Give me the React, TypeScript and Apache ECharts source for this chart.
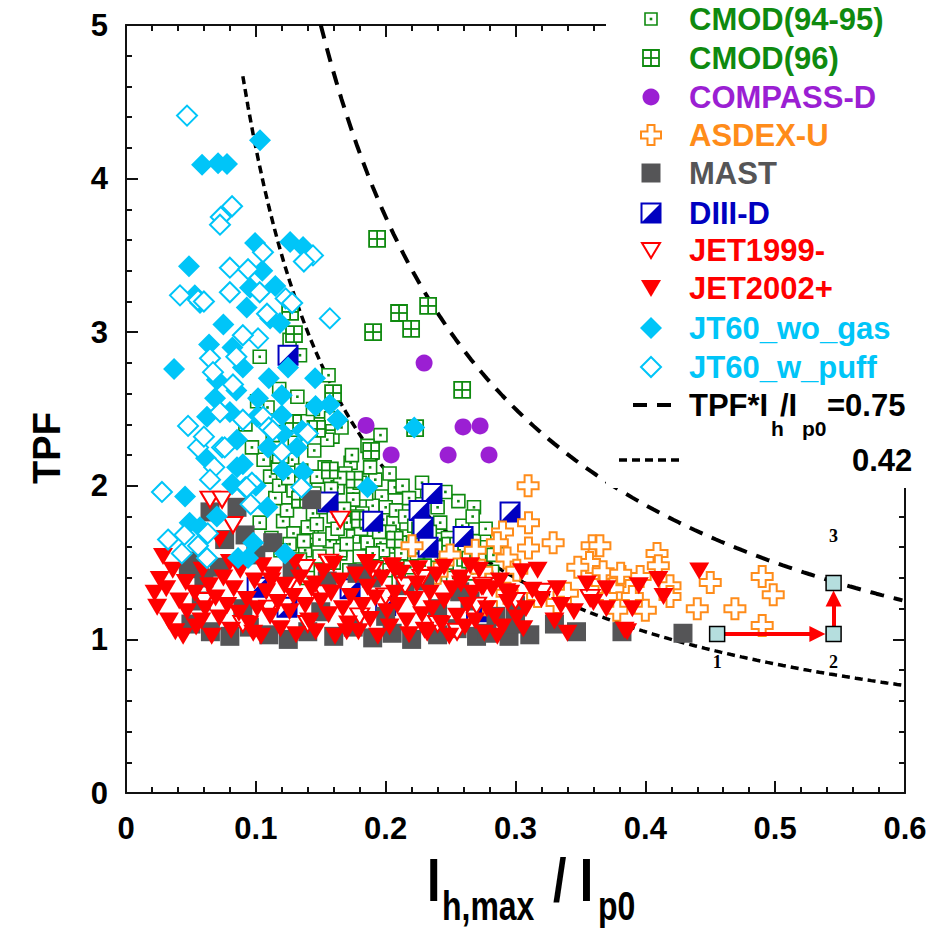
import React, { useEffect, useRef } from "react";
import * as echarts from "echarts";

// ---------------- data ----------------
const SERIES_NAMES = [
  "CMOD(94-95)", "CMOD(96)", "COMPASS-D", "ASDEX-U", "MAST",
  "DIII-D", "JET1999-", "JET2002+", "JT60_wo_gas", "JT60_w_puff",
];

const cmod9495: number[][] = [
  [0.103,2.84],[0.156,2.72],[0.109,2.51],[0.101,2.55],[0.149,2.40],[0.159,2.32],[0.173,2.15],[0.153,2.12],[0.145,2.23],[0.106,2.17],
  [0.111,2.06],[0.128,2.17],[0.138,2.02],[0.169,2.08],[0.175,1.95],[0.196,2.33],[0.174,2.20],[0.155,2.30],[0.120,2.35],[0.130,2.28],
  [0.197,1.93],[0.207,1.99],[0.213,2.00],[0.198,1.78],[0.206,1.76],[0.216,1.67],[0.211,1.63],[0.196,1.63],[0.186,1.67],[0.175,1.73],
  [0.144,1.82],[0.143,1.70],[0.138,1.58],[0.157,1.64],[0.165,1.56],[0.196,1.53],[0.206,1.52],[0.219,1.47],[0.242,1.76],[0.242,1.65],
  [0.248,1.66],[0.259,1.74],[0.257,1.58],[0.247,1.50],[0.267,1.43],[0.282,1.44],[0.260,1.52],[0.201,1.45],
  [0.103,1.76],[0.121,1.77],[0.129,1.69],[0.140,1.73],[0.149,1.65],[0.159,1.69],[0.170,1.76],[0.175,1.67],[0.180,1.54],[0.165,1.58],
  [0.149,1.54],[0.134,1.52],[0.155,1.91],[0.175,1.91],[0.163,1.99],[0.129,1.97],[0.124,1.84],[0.190,1.87],[0.190,1.76],[0.186,1.63],[0.193,1.47],
  [0.115,1.92],[0.118,2.00],[0.133,1.90],[0.145,1.95],[0.152,1.86],[0.160,1.80],[0.168,1.85],[0.182,1.82],[0.185,1.95],[0.192,2.04],
  [0.200,1.86],[0.208,1.84],[0.215,1.80],[0.222,1.74],[0.228,1.62],[0.235,1.55],[0.224,1.56],[0.230,1.48],[0.212,1.56],[0.203,1.70],
  [0.181,1.72],[0.170,1.62],[0.160,1.50],[0.150,1.45],[0.140,1.40],[0.172,1.45],[0.186,1.40],[0.210,1.38],[0.238,1.42],[0.252,1.40],
  [0.272,1.52],[0.276,1.60],[0.268,1.64],[0.250,1.58],[0.240,1.86],[0.232,1.95],[0.225,1.88],[0.218,1.92],[0.203,2.08],[0.188,2.12],
  [0.180,2.02],[0.165,2.05],[0.158,1.98],[0.147,2.06],[0.135,2.10],[0.125,2.05],[0.117,2.12],[0.126,1.62],[0.119,1.58],[0.112,1.66],
  [0.137,1.64],[0.147,1.75],[0.163,1.72],[0.178,1.80],[0.195,1.70],[0.198,1.58],[0.190,1.56],[0.228,1.80],[0.234,1.70],[0.244,1.60],
  [0.262,1.66],[0.283,1.55],[0.286,1.64],[0.277,1.72],[0.268,1.86],[0.267,1.80],[0.256,1.90],[0.246,1.96],[0.228,2.02],[0.158,2.44],
  [0.166,2.38],[0.186,2.26],[0.140,2.42],[0.113,2.33],[0.132,2.58],[0.144,2.50],[0.118,2.63],[0.092,2.40],[0.097,2.25],[0.134,2.85],[0.126,2.95],
];

const cmod96: number[][] = [
  [0.1934,3.607],[0.2103,3.125],[0.2327,3.171],[0.2196,3.021],[0.1903,3.001],[0.2589,2.624],[0.1888,2.227],[0.1264,3.132],
  [0.1294,2.988],[0.1595,2.604],[0.2227,2.376],[0.1472,2.370],[0.1287,2.409],[0.157,2.10],[0.176,2.04],[0.134,1.91],
  [0.119,2.20],[0.180,1.78],[0.207,1.65],[0.2265,1.71],[0.2496,1.61],[0.265,1.52],
];

const compassD: number[][] = [
  [0.2296,2.799],[0.1849,2.393],[0.2042,2.201],[0.2481,2.201],[0.2596,2.383],[0.2727,2.39],[0.2796,2.201],
];

const asdexU: number[][] = [
  [0.3097,2.00],[0.310,1.76],[0.310,1.595],[0.329,1.63],[0.359,1.61],[0.357,1.50],[0.348,1.47],[0.290,1.70],[0.286,1.63],[0.2935,1.53],
  [0.269,1.58],[0.2496,1.55],[0.2203,1.61],[0.2396,1.43],[0.274,1.45],[0.301,1.45],[0.317,1.28],[0.332,1.24],[0.2935,1.30],[0.340,1.30],
  [0.3667,1.37],[0.382,1.41],[0.375,1.33],[0.283,1.18],[0.378,1.19],[0.365,1.61],[0.409,1.56],[0.410,1.48],[0.396,1.41],[0.419,1.35],
  [0.419,1.28],[0.400,1.19],[0.390,1.28],[0.450,1.37],[0.440,1.20],[0.469,1.20],[0.490,1.41],[0.4985,1.29],[0.490,1.09],[0.370,1.28],
  [0.3675,1.44],[0.381,1.43],
];

const mast: number[][] = [
  [0.0647,1.83],[0.0855,1.86],[0.0917,1.68],[0.076,1.65],[0.113,1.63],[0.048,1.46],[0.050,1.51],[0.072,1.47],[0.143,1.91],[0.178,1.43],
  [0.189,1.40],[0.100,1.55],[0.060,1.40],[0.128,1.45],[0.215,1.35],[0.155,1.38],
  [0.050,1.10],[0.065,1.05],[0.080,1.02],[0.095,1.08],[0.110,1.03],[0.125,1.00],[0.140,1.05],[0.160,1.02],[0.175,1.08],[0.190,1.01],
  [0.205,1.04],[0.220,1.00],[0.240,1.03],[0.255,1.07],[0.270,1.02],[0.278,1.04],[0.295,1.02],[0.311,1.03],[0.347,1.05],[0.382,1.05],
  [0.429,1.04],[0.058,1.25],[0.090,1.20],[0.150,1.18],[0.200,1.15],[0.240,1.20],[0.265,1.25],[0.285,1.15],[0.300,1.10],[0.330,1.10],
  [0.257,1.31],[0.230,1.38],[0.300,1.22],
];

const diiiD: number[][] = [
  [0.1248,2.85],[0.1556,1.895],[0.190,1.77],[0.2357,1.95],[0.2257,1.84],[0.2288,1.73],[0.2327,1.60],[0.2596,1.67],[0.2958,1.83],
  [0.101,1.34],[0.124,1.21],[0.1726,1.33],[0.200,1.22],[0.270,1.18],
];

const jet1999: number[][] = [
  [0.0647,1.91],[0.074,1.91],[0.0824,1.745],[0.165,1.78],[0.138,1.465],[0.156,1.50],[0.152,1.30],[0.228,1.40],[0.275,1.35],[0.321,1.31],
  [0.3575,1.27],[0.215,1.35],[0.110,1.20],[0.180,1.15],[0.240,1.10],[0.270,1.22],[0.300,1.25],[0.090,1.10],[0.200,1.28],[0.060,1.25],
  [0.125,1.35],[0.255,1.05],[0.190,1.45],[0.140,1.10],
];

const jet2002: number[][] = [
  [0.0285,1.54],[0.026,1.39],[0.022,1.30],[0.024,1.21],[0.072,1.65],[0.031,1.33],[0.036,1.45],[0.033,1.12],[0.041,1.25],[0.038,1.05],
  [0.046,1.37],[0.047,1.18],[0.053,1.30],[0.054,1.08],[0.059,1.45],[0.061,1.20],[0.064,1.35],[0.066,1.02],[0.069,1.27],[0.072,1.14],
  [0.075,1.40],[0.078,1.22],[0.081,1.06],[0.083,1.33],[0.087,1.17],[0.088,1.45],[0.093,1.26],[0.095,1.10],[0.099,1.38],[0.101,1.20],
  [0.104,1.02],[0.108,1.31],[0.111,1.15],[0.113,1.42],[0.117,1.24],[0.119,1.07],[0.122,1.35],[0.126,1.18],[0.129,1.28],[0.131,1.03],
  [0.134,1.40],[0.138,1.22],[0.141,1.12],[0.143,1.33],[0.146,1.05],[0.150,1.25],[0.152,1.44],[0.156,1.16],[0.158,1.30],[0.161,1.02],
  [0.165,1.38],[0.167,1.20],[0.171,1.10],[0.173,1.28],[0.177,1.42],[0.179,1.05],[0.182,1.22],[0.186,1.34],[0.188,1.13],[0.192,1.27],
  [0.194,1.02],[0.197,1.40],[0.201,1.18],[0.203,1.08],[0.207,1.30],[0.209,1.22],[0.212,1.43],[0.216,1.12],[0.218,1.03],[0.222,1.26],
  [0.224,1.36],[0.228,1.16],[0.230,1.06],[0.234,1.30],[0.236,1.20],[0.239,1.42],[0.243,1.10],[0.245,1.25],[0.249,1.02],[0.251,1.33],
  [0.255,1.15],[0.257,1.40],[0.261,1.08],[0.263,1.22],[0.267,1.30],[0.269,1.12],[0.272,1.45],[0.276,1.04],[0.278,1.20],[0.282,1.33],
  [0.284,1.15],[0.288,1.38],[0.290,1.08],[0.294,1.24],[0.296,1.30],[0.301,1.14],[0.305,1.44],[0.308,1.20],[0.313,1.32],[0.306,1.07],
  [0.320,1.26],[0.317,1.45],[0.330,1.12],[0.335,1.22],[0.332,1.33],[0.345,1.18],[0.340,1.04],[0.355,1.36],[0.360,1.24],[0.370,1.20],
  [0.384,1.06],[0.386,1.05],[0.390,1.20],[0.395,1.35],[0.410,1.39],[0.414,1.28],[0.4415,1.445],[0.245,1.47],[0.265,1.48],[0.225,1.46],
  [0.205,1.48],[0.185,1.50],[0.160,1.49],[0.130,1.50],[0.105,1.48],[0.080,1.50],[0.207,1.45],[0.274,1.34],[0.293,1.31],[0.370,1.33],
  [0.058,1.12],[0.098,1.04],[0.146,1.36],[0.188,1.46],[0.232,1.04],[0.258,1.36],[0.112,1.38],[0.170,1.05],[0.286,1.02],[0.044,1.02],
];

const jt60WoGas: number[][] = [
  [0.0586,4.09],[0.0709,4.10],[0.0778,4.095],[0.1032,4.25],[0.0994,3.58],[0.1264,3.587],[0.1364,3.555],[0.0485,3.43],[0.053,3.24],[0.057,3.19],
  [0.037,2.76],[0.082,2.90],[0.090,2.77],[0.0955,3.29],[0.093,3.16],[0.111,3.09],[0.1186,3.06],[0.070,2.69],[0.0686,2.57],[0.0624,2.45],
  [0.080,2.48],[0.1017,2.57],[0.120,2.59],[0.120,2.46],[0.101,2.45],[0.0855,2.30],[0.121,2.34],[0.1356,2.36],[0.1317,2.25],[0.1094,2.25],
  [0.090,2.14],[0.121,2.10],[0.1364,2.09],[0.1248,2.77],[0.1456,2.70],[0.157,2.53],[0.163,2.43],[0.0817,2.01],[0.0455,1.93],[0.186,1.99],
  [0.049,1.76],[0.057,1.73],[0.098,1.63],[0.0863,1.53],[0.094,1.53],[0.1225,1.56],[0.109,1.86],[0.1356,1.99],[0.0855,2.12],[0.0616,2.18],
  [0.222,2.38],[0.146,2.52],[0.075,3.05],[0.105,3.40],[0.115,3.30],[0.085,2.62],[0.064,2.92],[0.110,2.70],[0.100,2.00],[0.070,1.80],
];

const jt60WPuff: number[][] = [
  [0.047,4.41],[0.0817,3.82],[0.073,3.75],[0.0724,3.70],[0.1055,3.52],[0.144,3.50],[0.137,3.46],[0.080,3.42],[0.094,3.41],[0.123,3.22],
  [0.157,3.09],[0.103,3.26],[0.080,3.26],[0.0555,3.21],[0.1086,3.12],[0.1017,2.96],[0.0647,2.83],[0.067,2.74],[0.0824,2.66],[0.0724,2.48],
  [0.0478,2.39],[0.090,2.43],[0.0555,2.25],[0.074,2.25],[0.1055,2.45],[0.068,2.12],[0.0416,3.24],[0.060,3.20],[0.128,3.19],[0.090,2.98],
  [0.120,2.22],[0.140,2.34],[0.0647,2.04],[0.0277,1.96],[0.097,2.02],[0.135,1.99],[0.092,1.99],[0.0324,1.65],[0.045,1.68],[0.043,1.56],
  [0.0555,1.61],[0.063,1.69],[0.0624,1.53],[0.096,1.88],[0.093,1.99],[0.076,2.25],[0.060,2.32],[0.110,2.38],[0.085,2.84],[0.113,2.36],
];

// limit curves TPF * Ih/Ip0 = const
const LIMIT_CONSTANTS = [0.75, 0.42];
const LIMIT_X_START = [0.15, 0.09];
const X_MAX = 0.6;

// scenario steps 1 -> 2 -> 3
const stepPoints: number[][] = [[0.4553, 1.035], [0.545, 1.035], [0.545, 1.367]];
const stepLabels = ["1", "2", "3"];
const stepArrows: number[][][] = [
  [[0.4611, 1.035], [0.5325, 1.035]],
  [[0.545, 1.084], [0.545, 1.266]],
];

// ---------------- styles ----------------
const GREEN = "#0f8a0f";
const PURPLE = "#9b1fd3";
const ORANGE = "#ff8c1a";
const GREY = "#555557";
const BLUE = "#0000c0";
const RED = "#ff0000";
const CYAN = "#00c5f8";
const TEXT_COLORS = [GREEN, GREEN, PURPLE, ORANGE, GREY, BLUE, RED, RED, CYAN, CYAN];

const PLUS_PATH = "path://M7,0H14V7H21V14H14V21H7V14H0V7H7Z";
const SANS = '"Liberation Sans", Arial, sans-serif';

function curveData(k: number, x0: number): number[][] {
  const pts: number[][] = [];
  for (let x = x0; x <= X_MAX + 1e-9; x += 0.004) pts.push([x, k / x]);
  return pts;
}

function renderCmodDot(_p: any, api: any) {
  const c = api.coord([api.value(0), api.value(1)]);
  const s = 13;
  return {
    type: "group",
    children: [
      { type: "rect", shape: { x: c[0] - s / 2, y: c[1] - s / 2, width: s, height: s }, style: { fill: "#fff", stroke: GREEN, lineWidth: 1.6 } },
      { type: "rect", shape: { x: c[0] - 1.3, y: c[1] - 1.3, width: 2.6, height: 2.6 }, style: { fill: GREEN } },
    ],
  };
}
function renderCmodGrid(_p: any, api: any) {
  const c = api.coord([api.value(0), api.value(1)]);
  const s = 16;
  return {
    type: "group",
    children: [
      { type: "rect", shape: { x: c[0] - s / 2, y: c[1] - s / 2, width: s, height: s }, style: { fill: "#fff", stroke: GREEN, lineWidth: 1.8 } },
      { type: "line", shape: { x1: c[0], y1: c[1] - s / 2, x2: c[0], y2: c[1] + s / 2 }, style: { stroke: GREEN, lineWidth: 1.8 } },
      { type: "line", shape: { x1: c[0] - s / 2, y1: c[1], x2: c[0] + s / 2, y2: c[1] }, style: { stroke: GREEN, lineWidth: 1.8 } },
    ],
  };
}
function renderDiiiD(_p: any, api: any) {
  const c = api.coord([api.value(0), api.value(1)]);
  const s = 19;
  const h = s / 2;
  return {
    type: "group",
    children: [
      { type: "rect", shape: { x: c[0] - h, y: c[1] - h, width: s, height: s }, style: { fill: "#fff", stroke: BLUE, lineWidth: 2 } },
      { type: "polygon", shape: { points: [[c[0] + h, c[1] - h], [c[0] + h, c[1] + h], [c[0] - h, c[1] + h]] }, style: { fill: BLUE } },
    ],
  };
}

function legendIcon(i: number, x: number, y: number): any[] {
  switch (i) {
    case 0:
      return [
        { type: "rect", shape: { x: x - 6, y: y - 6, width: 12, height: 12 }, style: { fill: "#fff", stroke: GREEN, lineWidth: 1.6 } },
        { type: "rect", shape: { x: x - 1.3, y: y - 1.3, width: 2.6, height: 2.6 }, style: { fill: GREEN } },
      ];
    case 1:
      return [
        { type: "rect", shape: { x: x - 8, y: y - 8, width: 16, height: 16 }, style: { fill: "#fff", stroke: GREEN, lineWidth: 1.8 } },
        { type: "line", shape: { x1: x, y1: y - 8, x2: x, y2: y + 8 }, style: { stroke: GREEN, lineWidth: 1.8 } },
        { type: "line", shape: { x1: x - 8, y1: y, x2: x + 8, y2: y }, style: { stroke: GREEN, lineWidth: 1.8 } },
      ];
    case 2:
      return [{ type: "circle", shape: { cx: x, cy: y, r: 8.5 }, style: { fill: PURPLE } }];
    case 3: {
      const a = 3.5, b = 10;
      return [{
        type: "polygon",
        shape: { points: [[x - a, y - b], [x + a, y - b], [x + a, y - a], [x + b, y - a], [x + b, y + a], [x + a, y + a], [x + a, y + b], [x - a, y + b], [x - a, y + a], [x - b, y + a], [x - b, y - a], [x - a, y - a]] },
        style: { fill: "#fff", stroke: ORANGE, lineWidth: 2 },
      }];
    }
    case 4:
      return [{ type: "rect", shape: { x: x - 9.5, y: y - 9.5, width: 19, height: 19 }, style: { fill: GREY } }];
    case 5:
      return [
        { type: "rect", shape: { x: x - 9.5, y: y - 9.5, width: 19, height: 19 }, style: { fill: "#fff", stroke: BLUE, lineWidth: 2 } },
        { type: "polygon", shape: { points: [[x + 9.5, y - 9.5], [x + 9.5, y + 9.5], [x - 9.5, y + 9.5]] }, style: { fill: BLUE } },
      ];
    case 6:
      return [{ type: "polygon", shape: { points: [[x - 9, y - 7], [x + 9, y - 7], [x, y + 8]] }, style: { fill: "#fff", stroke: RED, lineWidth: 2 } }];
    case 7:
      return [{ type: "polygon", shape: { points: [[x - 10, y - 8], [x + 10, y - 8], [x, y + 9]] }, style: { fill: RED } }];
    case 8:
      return [{ type: "polygon", shape: { points: [[x, y - 11], [x + 11, y], [x, y + 11], [x - 11, y]] }, style: { fill: CYAN } }];
    default:
      return [{ type: "polygon", shape: { points: [[x, y - 10], [x + 10, y], [x, y + 10], [x - 10, y]] }, style: { fill: "#fff", stroke: CYAN, lineWidth: 2 } }];
  }
}

function txt(text: string, x: number, y: number, font: string, fill = "#000", align = "left", extra: any = {}) {
  return {
    type: "text",
    x,
    y,
    z: 101,
    ...extra,
    style: { text, font, fill, textAlign: align, align, textVerticalAlign: "middle", verticalAlign: "middle" },
  };
}

export default function App() {
  const ref = useRef<HTMLDivElement>(null);

  useEffect(() => {
    if (!ref.current) return;
    const chart = echarts.init(ref.current, null, { renderer: "svg" });

    const LEG_ICON_X = 651;
    const LEG_TEXT_X = 689;
    const LEG_Y = [19, 58, 97, 135, 173, 213, 250, 288, 328, 367];

    const legendEls: any[] = [
      { type: "rect", z: 100, shape: { x: 606, y: 0, width: 330, height: 488 }, style: { fill: "#fff" } },
    ];
    SERIES_NAMES.forEach((name, i) => {
      legendIcon(i, LEG_ICON_X, LEG_Y[i]).forEach((el) => legendEls.push({ ...el, z: 101 }));
      legendEls.push(txt(name, LEG_TEXT_X, LEG_Y[i], `bold 31px ${SANS}`, TEXT_COLORS[i]));
    });
    legendEls.push({ type: "line", z: 101, shape: { x1: 633, y1: 405, x2: 681, y2: 405 }, style: { stroke: "#000", lineWidth: 4, lineDash: [14, 10] } });
    legendEls.push(txt("TPF*I", LEG_TEXT_X, 405, `bold 31px ${SANS}`));
    legendEls.push(txt("h", 771, 428, `bold 21px ${SANS}`));
    legendEls.push(txt("/I", 780, 405, `bold 31px ${SANS}`));
    legendEls.push(txt("p0", 802, 428, `bold 21px ${SANS}`));
    legendEls.push(txt("=0.75", 827, 405, `bold 31px ${SANS}`));
    legendEls.push({ type: "line", z: 101, shape: { x1: 619, y1: 460, x2: 684, y2: 460 }, style: { stroke: "#000", lineWidth: 3.5, lineDash: [8, 5] } });
    legendEls.push(txt("0.42", 852, 460, `bold 31px ${SANS}`));

    // axis titles (condensed by horizontal scaling)
    const squeeze = { scaleX: 0.78 };
    legendEls.push(txt("TPF", 47, 448, `bold 38px ${SANS}`, "#000", "center", { rotation: Math.PI / 2 }));
    legendEls.push(txt("I", 427, 880, `bold 62px ${SANS}`, "#000", "left", squeeze));
    legendEls.push(txt("h,max", 442, 906, `bold 41px ${SANS}`, "#000", "left", squeeze));
    legendEls.push(txt("/ I", 553, 880, `bold 62px ${SANS}`, "#000", "left", squeeze));
    legendEls.push(txt("p0", 598, 906, `bold 41px ${SANS}`, "#000", "left", squeeze));

    const axisLineStyle = { color: "#111", width: 2 };
    const xBase = {
      type: "value" as const,
      min: 0,
      max: X_MAX,
      interval: 0.1,
      splitLine: { show: false },
      axisLine: { show: true, onZero: false, lineStyle: axisLineStyle },
      axisTick: { show: true, inside: true, length: 12, lineStyle: axisLineStyle },
      minorTick: { show: true, splitNumber: 5, length: 6, lineStyle: axisLineStyle },
    };
    const yBase = {
      type: "value" as const,
      min: 0,
      max: 5,
      interval: 1,
      splitLine: { show: false },
      axisLine: { show: true, onZero: false, lineStyle: axisLineStyle },
      axisTick: { show: true, inside: true, length: 12, lineStyle: axisLineStyle },
      minorTick: { show: true, splitNumber: 5, length: 6, lineStyle: axisLineStyle },
    };

    const scatterBase = { type: "scatter" as const, silent: true, emphasis: { disabled: true } };

    const option: any = {
      animation: false,
      backgroundColor: "#fff",
      grid: { left: 126, right: 27, top: 25, bottom: 138, containLabel: false },
      xAxis: [
        {
          ...xBase,
          position: "bottom",
          axisLabel: {
            show: true,
            margin: 20,
            fontSize: 31,
            fontWeight: "bold",
            fontFamily: SANS,
            color: "#000",
            formatter: (v: number) => String(+v.toFixed(1)),
          },
        },
        { ...xBase, position: "top", axisLabel: { show: false } },
      ],
      yAxis: [
        {
          ...yBase,
          position: "left",
          axisLabel: { show: true, margin: 18, fontSize: 31, fontWeight: "bold", fontFamily: SANS, color: "#000" },
        },
        { ...yBase, position: "right", axisLabel: { show: false } },
      ],
      graphic: { elements: legendEls },
      series: [
        {
          type: "line",
          name: "TPF*Ih/Ip0=0.75",
          data: curveData(LIMIT_CONSTANTS[0], LIMIT_X_START[0]),
          showSymbol: false,
          symbol: "none",
          silent: true,
          lineStyle: { color: "#000", width: 4, type: [14, 10] },
          z: 1,
        },
        {
          type: "line",
          name: "0.42",
          data: curveData(LIMIT_CONSTANTS[1], LIMIT_X_START[1]),
          showSymbol: false,
          symbol: "none",
          silent: true,
          lineStyle: { color: "#000", width: 3.5, type: [8, 5] },
          z: 1,
        },
        { type: "custom", name: SERIES_NAMES[0], coordinateSystem: "cartesian2d", data: cmod9495, renderItem: renderCmodDot, encode: { x: 0, y: 1 }, silent: true },
        { type: "custom", name: SERIES_NAMES[1], coordinateSystem: "cartesian2d", data: cmod96, renderItem: renderCmodGrid, encode: { x: 0, y: 1 }, silent: true },
        { ...scatterBase, name: SERIES_NAMES[2], data: compassD, symbol: "circle", symbolSize: 17, itemStyle: { color: PURPLE, opacity: 1 } },
        { ...scatterBase, name: SERIES_NAMES[3], data: asdexU, symbol: PLUS_PATH, symbolSize: 21, itemStyle: { color: "#fff", borderColor: ORANGE, borderWidth: 2, opacity: 1 } },
        { ...scatterBase, name: SERIES_NAMES[4], data: mast, symbol: "rect", symbolSize: 19, itemStyle: { color: GREY, opacity: 1 } },
        { type: "custom", name: SERIES_NAMES[5], coordinateSystem: "cartesian2d", data: diiiD, renderItem: renderDiiiD, encode: { x: 0, y: 1 }, silent: true },
        { ...scatterBase, name: SERIES_NAMES[6], data: jet1999, symbol: "triangle", symbolRotate: 180, symbolSize: [19, 16], itemStyle: { color: "#fff", borderColor: RED, borderWidth: 2, opacity: 1 } },
        { ...scatterBase, name: SERIES_NAMES[7], data: jet2002, symbol: "triangle", symbolRotate: 180, symbolSize: [20, 17], itemStyle: { color: RED, opacity: 1 } },
        { ...scatterBase, name: SERIES_NAMES[8], data: jt60WoGas, symbol: "diamond", symbolSize: 22, itemStyle: { color: CYAN, opacity: 1 } },
        { ...scatterBase, name: SERIES_NAMES[9], data: jt60WPuff, symbol: "diamond", symbolSize: 20, itemStyle: { color: "#fff", borderColor: CYAN, borderWidth: 2, opacity: 1 } },
        {
          type: "lines",
          coordinateSystem: "cartesian2d",
          silent: true,
          data: stepArrows.map((c) => ({ coords: c })),
          symbol: ["none", "triangle"],
          symbolSize: 16,
          lineStyle: { color: RED, width: 4, opacity: 1, curveness: 0 },
          itemStyle: { color: RED },
          z: 5,
        },
        {
          ...scatterBase,
          name: "steps",
          data: stepPoints.map((v, i) => ({ value: v, label: { offset: [0, i === 2 ? -47 : 28] } })),
          symbol: "rect",
          symbolSize: 15,
          itemStyle: { color: "#b5dede", borderColor: "#000", borderWidth: 1.5, opacity: 1 },
          label: {
            show: true,
            position: "inside",
            formatter: (p: any) => stepLabels[p.dataIndex],
            fontFamily: '"Liberation Serif", "Times New Roman", serif',
            fontWeight: "bold",
            fontSize: 18,
            color: "#000",
          },
          z: 6,
        },
      ],
    };

    chart.setOption(option);
    return () => chart.dispose();
  }, []);

  return (
    <div
      ref={ref}
      style={{ position: "absolute", left: 0, top: 0, width: 932, height: 931, background: "#fff" }}
    />
  );
}
